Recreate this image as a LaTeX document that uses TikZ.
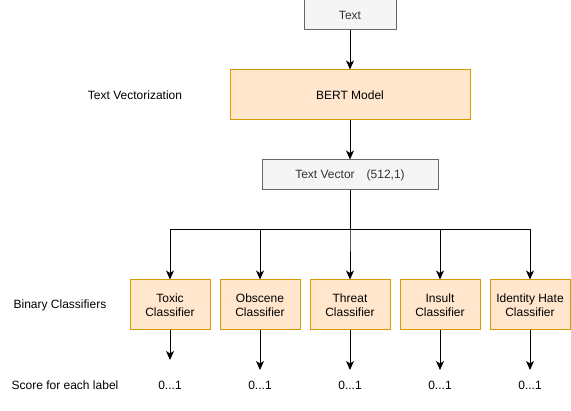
\documentclass[tikz,border=0pt]{standalone}
\usepackage{fontspec}
\setmainfont{Liberation Sans}
\usetikzlibrary{arrows.meta}
\definecolor{orfill}{HTML}{FFE6CC}
\definecolor{ordraw}{HTML}{D79B00}
\definecolor{gyfill}{HTML}{F5F5F5}
\definecolor{gydraw}{HTML}{666666}
\definecolor{gytext}{HTML}{333333}
\begin{document}
\begin{tikzpicture}[x=1pt,y=-1pt,
  every node/.style={font=\fontsize{12}{14}\selectfont, inner sep=0pt},
  graybox/.style={draw=gydraw, fill=gyfill, text=gytext, line width=1pt, rectangle},
  orbox/.style={draw=ordraw, fill=orfill, line width=1pt, rectangle, minimum width=80pt, minimum height=50pt, align=center},
  arr/.style={line width=1pt, -{Stealth[length=9pt,width=8pt,inset=2.5pt]}},
  lbl/.style={text=black}]
\useasboundingbox (0,0) rectangle (571,411);
\node[graybox, minimum width=92pt, minimum height=30pt] (text) at (350,15) {Text};
\node[orbox, minimum width=240pt, minimum height=50pt] (bert) at (350,95) {BERT Model};
\node[graybox, minimum width=176pt, minimum height=30pt] (tv) at (350,175) {Text Vector\quad(512,1)};
\coordinate (split) at (350,230);
\node[orbox] (c1) at (170,305) {Toxic\\Classifier};
\node[orbox] (c2) at (260,305) {Obscene\\Classifier};
\node[orbox] (c3) at (350,305) {Threat\\Classifier};
\node[orbox] (c4) at (440,305) {Insult\\Classifier};
\node[orbox] (c5) at (530,305) {Identity Hate\\Classifier};
\node[lbl] (lv) at (135,95) {Text Vectorization};
\node[lbl] (lb) at (60,305) {Binary Classifiers};
\node[lbl] (ls) at (65,385) {Score for each label};
\node[lbl] (o1) at (170,385) {0...1};
\node[lbl] (o2) at (260,385) {0...1};
\node[lbl] (o3) at (350,385) {0...1};
\node[lbl] (o4) at (440,385) {0...1};
\node[lbl] (o5) at (530,385) {0...1};
\coordinate (e1) at (170,360);
\coordinate (e2) at (260,370);
\coordinate (e3) at (350,370);
\coordinate (e4) at (440,370);
\coordinate (e5) at (530,370);
\draw[arr] (text.south) -- (bert.north);
\draw[arr] (bert.south) -- (tv.north);
\foreach \i in {1,...,5} {
  \draw[arr] (tv.south) -- (split) -| (c\i.north);
  \draw[arr] (c\i.south) -- (e\i);
}
\end{tikzpicture}
\end{document}
